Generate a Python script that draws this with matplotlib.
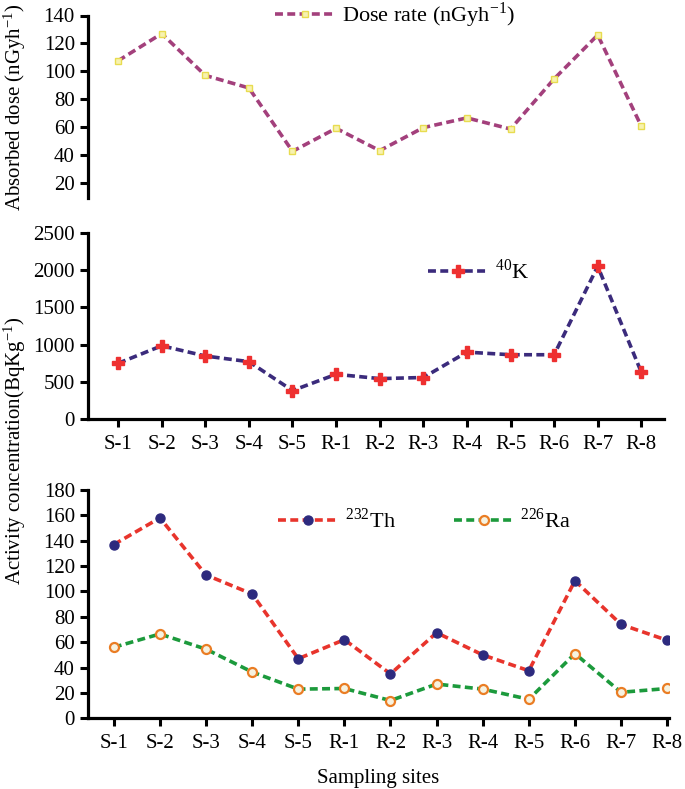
import matplotlib
matplotlib.use("Agg")
import matplotlib.pyplot as plt
import numpy as np

# sampling sites
sites = ["S-1", "S-2", "S-3", "S-4", "S-5", "R-1", "R-2", "R-3", "R-4", "R-5", "R-6", "R-7", "R-8"]

# absorbed dose rate (nGy/h)
dose_rate = [107.5, 127, 97, 88, 42.5, 59, 43, 59.5, 66.5, 58.5, 94.5, 126, 60.5]

# 40K activity (Bq/kg)
k40 = [750, 985, 848, 772, 385, 603, 545, 560, 900, 865, 865, 2050, 630]

# 232Th and 226Ra activity (Bq/kg)
th232 = [137, 158, 113, 98, 47, 62, 35, 67.5, 50, 37.5, 108.5, 74, 61.5]
ra226 = [56, 66.5, 54.5, 36.5, 23, 23.5, 14, 27, 23, 15, 51, 20.5, 23.5]

plt.rcParams["font.family"] = ["Liberation Serif", "DejaVu Serif"]
plt.rcParams["mathtext.fontset"] = "stix"

W, H = 685, 789
fig = plt.figure(figsize=(W / 100, H / 100), dpi=100)

def px_axes(x0, y0, x1, y1):
    # axes box from pixel corners (top-left origin)
    return fig.add_axes([x0 / W, 1 - y1 / H, (x1 - x0) / W, (y1 - y0) / H])

ax1 = px_axes(88, 15.5, 664, 198)
ax2 = px_axes(88, 232.7, 664, 419.3)
ax3 = px_axes(88, 490, 669, 718.3)

x = np.arange(len(sites))
dash = (2.2, 1.2)
LW = 2.6

def style(ax):
    for s in ["top", "right"]:
        ax.spines[s].set_visible(False)
    for s in ["left", "bottom"]:
        ax.spines[s].set_linewidth(2.3)
    ax.tick_params(width=2.2, length=6, labelsize=15, direction="out")
    ax.tick_params(axis="y", pad=3.5)
    ax.tick_params(axis="x", pad=5)

def put_legend(ax, xpx, ypx, ncol=1):
    ax.legend(loc="center left", bbox_to_anchor=(xpx / W, 1 - ypx / H),
              bbox_transform=fig.transFigure, frameon=False, fontsize=16,
              ncol=ncol, handlelength=2.7, handletextpad=0.3,
              columnspacing=2.6, borderpad=0, borderaxespad=0)

# top: dose rate
ax1.plot(x, dose_rate, ls="--", dashes=dash, lw=LW, color="#a3407c", marker="s", ms=4,
         mfc="#f7f2b0", mec="#e8dc50", mew=1,
         label="Dose rate (nGyh$^{\\mathregular{-1}}$)")
style(ax1)
ax1.spines["bottom"].set_visible(False)
ax1.set_xticks([])
ax1.set_xlim(-0.69, 12.52)
ax1.set_ylim(9, 140)
ax1.set_yticks(range(20, 141, 20))
put_legend(ax1, 275, 15)

# middle: 40K
ax2.plot(x, k40, ls="--", dashes=dash, lw=LW, color="#3b2b7c", marker="P", ms=8,
         mfc="#ee3030", mec="#ee3030", label="$^{\\mathregular{40}}$K")
style(ax2)
ax2.set_xlim(-0.69, 12.52)
ax2.set_ylim(0, 2500)
ax2.set_yticks(range(0, 2501, 500))
ax2.set_xticks(x)
ax2.set_xticklabels(sites)
put_legend(ax2, 428, 272)

# bottom: 232Th and 226Ra
ax3.plot(x, th232, ls="--", dashes=dash, lw=LW, color="#e8342c", marker="o", ms=6.5,
         mfc="#2d2a7e", mec="#2d2a7e", label="$^{\\mathregular{232}}$Th")
ax3.plot(x, ra226, ls="--", dashes=dash, lw=LW, color="#1c9a3c", marker="o", ms=6.5,
         mfc="#f6f2e0", mec="#ea7d24", mew=1.6, label="$^{\\mathregular{226}}$Ra")
style(ax3)
ax3.set_xlim(-0.56, 12.04)
ax3.set_ylim(0, 180)
ax3.set_yticks(range(0, 181, 20))
ax3.set_xticks(x)
ax3.set_xticklabels(sites)
ax3.set_xlabel("Sampling sites", fontsize=15, labelpad=12)
put_legend(ax3, 278, 521, ncol=2)

fig.text(15 / W, 1 - 107 / H, "Absorbed dose (nGyh$^{\\mathregular{-1}}$)", rotation=90,
         fontsize=15, ha="center", va="center")
fig.text(15 / W, 1 - 451 / H, "Activity concentration(BqKg$^{\\mathregular{-1}}$)", rotation=90,
         fontsize=15, ha="center", va="center")

fig.savefig("out.png", dpi=100)
